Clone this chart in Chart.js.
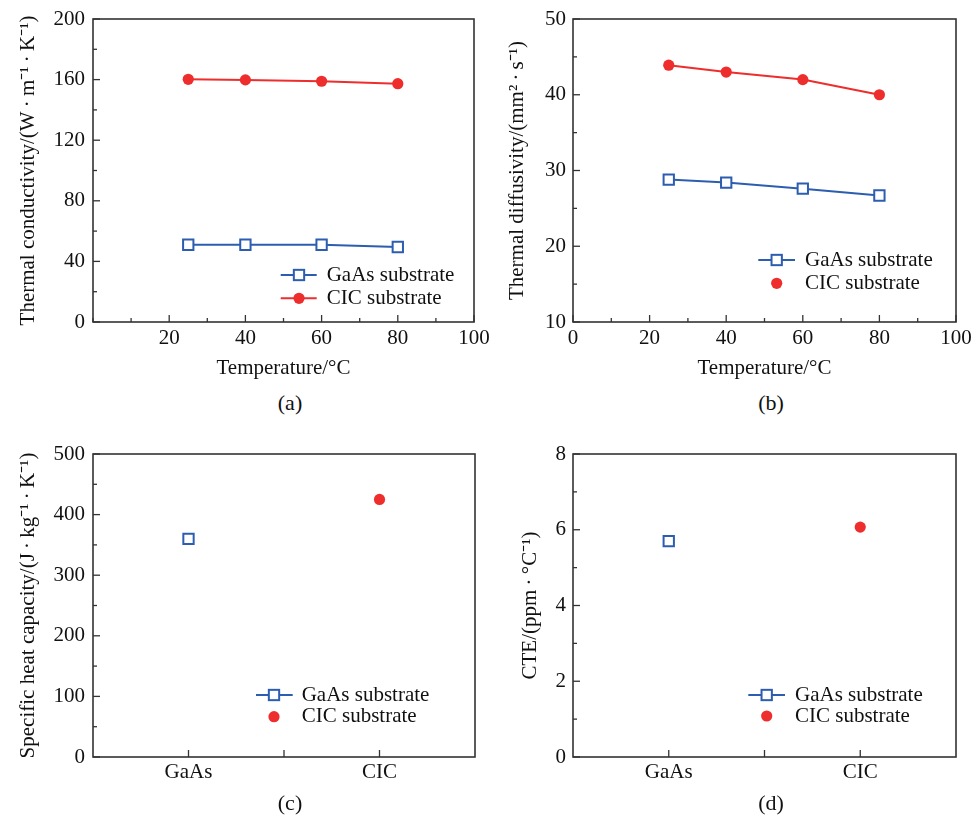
<!DOCTYPE html>
<html>
<head>
<meta charset="utf-8">
<script src="https://cdn.jsdelivr.net/npm/chart.js@4.4.1/dist/chart.umd.min.js"></script>
<style>
html, body { margin: 0; padding: 0; background: #fff; overflow: hidden; }
body { width: 973px; height: 817px; position: relative; }
canvas { position: absolute; }
.plabel { position: absolute; font: 22px "Liberation Serif", "Times New Roman", serif; color: #111; transform: translate(-50%, -50%); white-space: nowrap; }
</style>
</head>
<body>
<canvas id="ca"></canvas>
<canvas id="cb"></canvas>
<canvas id="cc"></canvas>
<canvas id="cd"></canvas>
<div class="plabel" style="left:290px;top:403px">(a)</div>
<div class="plabel" style="left:771px;top:403px">(b)</div>
<div class="plabel" style="left:290px;top:803px">(c)</div>
<div class="plabel" style="left:771px;top:803px">(d)</div>
<script>
// ---------------- DATA ----------------
const seriesLabels = ['GaAs substrate', 'CIC substrate'];
const temperatures = [25, 40, 60, 80];
const gaasConductivity = [51, 51, 51, 49.5];
const cicConductivity = [160.2, 159.8, 158.9, 157.3];
const gaasDiffusivity = [28.8, 28.4, 27.6, 26.7];
const cicDiffusivity = [43.9, 43.0, 42.0, 40.0];
const substrates = ['GaAs', 'CIC'];
const heatCapacity = [360, 425];
const cteValues = [5.7, 6.07];

const tempTicksA = [20, 40, 60, 80, 100];
const tempTicksB = [0, 20, 40, 60, 80, 100];
const conductivityTicks = [0, 40, 80, 120, 160, 200];
const diffusivityTicks = [10, 20, 30, 40, 50];
const heatCapTicks = [0, 100, 200, 300, 400, 500];
const cteTicks = [0, 2, 4, 6, 8];

// ---------------- STYLE ----------------
const BLUE = '#2c5db0';
const RED = '#ee2d2d';
const AXIS = '#333333';
const TEXT = '#111111';
const FONT = '"Liberation Serif", "Times New Roman", serif';

Chart.defaults.font.family = FONT;
Chart.defaults.font.size = 21;
Chart.defaults.color = TEXT;
Chart.defaults.animation = false;

const inTicks = {
  id: 'inTicks',
  afterDraw(chart, args, o) {
    const { ctx, chartArea: ca } = chart;
    const xs = chart.scales.x, ys = chart.scales.y;
    ctx.save();
    ctx.strokeStyle = AXIS;
    ctx.lineWidth = 1.3;
    const dx = (px, len) => { ctx.beginPath(); ctx.moveTo(px, ca.bottom); ctx.lineTo(px, ca.bottom - len); ctx.stroke(); };
    const dy = (py, len) => { ctx.beginPath(); ctx.moveTo(ca.left, py); ctx.lineTo(ca.left + len, py); ctx.stroke(); };
    xs.ticks.forEach((t, i) => dx(xs.getPixelForTick(i), o.major));
    ys.ticks.forEach((t, i) => dy(ys.getPixelForTick(i), o.major));
    if (o.xMinor) {
      const n = Math.round((xs.max - xs.min) / o.xMinor);
      for (let k = 0; k <= n; k++) {
        const v = xs.min + k * o.xMinor;
        if (!xs.ticks.some(t => Math.abs(t.value - v) < 1e-9)) dx(xs.getPixelForValue(v), o.minor);
      }
    }
    if (o.xMid) {
      for (let i = 0; i < xs.ticks.length - 1; i++) {
        dx((xs.getPixelForTick(i) + xs.getPixelForTick(i + 1)) / 2, o.major);
      }
    }
    if (o.yMinor) {
      const n = Math.round((ys.max - ys.min) / o.yMinor);
      for (let k = 0; k <= n; k++) {
        const v = ys.min + k * o.yMinor;
        if (!ys.ticks.some(t => Math.abs(t.value - v) < 1e-9)) dy(ys.getPixelForValue(v), o.minor);
      }
    }
    ctx.lineWidth = 1.6;
    ctx.strokeRect(ca.left, ca.top, ca.right - ca.left, ca.bottom - ca.top);
    ctx.restore();
  }
};

const boxLegend = {
  id: 'boxLegend',
  afterDraw(chart, args, o) {
    const { ctx, chartArea: ca } = chart;
    ctx.save();
    chart.data.datasets.forEach((ds, i) => {
      const y = ca.bottom + o.rows[i];
      const xm = ca.right + o.xm;
      if (o.lines[i]) {
        ctx.strokeStyle = ds.borderColor;
        ctx.lineWidth = 2;
        ctx.beginPath();
        ctx.moveTo(ca.right + o.x1, y);
        ctx.lineTo(ca.right + o.x2, y);
        ctx.stroke();
      }
      if (ds.pointStyle === 'rect') {
        const s = ds.pointRadius * Math.SQRT1_2;
        ctx.fillStyle = '#fff';
        ctx.fillRect(xm - s, y - s, 2 * s, 2 * s);
        ctx.strokeStyle = ds.borderColor;
        ctx.lineWidth = 2;
        ctx.strokeRect(xm - s, y - s, 2 * s, 2 * s);
      } else {
        ctx.fillStyle = ds.pointBackgroundColor;
        ctx.beginPath();
        ctx.arc(xm, y, ds.pointRadius, 0, Math.PI * 2);
        ctx.fill();
      }
      ctx.fillStyle = TEXT;
      ctx.font = '21px ' + FONT;
      ctx.textAlign = 'left';
      ctx.textBaseline = 'middle';
      ctx.fillText(ds.label, ca.right + o.xt, y);
    });
    ctx.restore();
  }
};

function gaasStyle(showLine) {
  return {
    label: seriesLabels[0], borderColor: BLUE, backgroundColor: BLUE, borderWidth: 2,
    pointStyle: 'rect', pointRadius: 7.3, pointBorderWidth: 2,
    pointBorderColor: BLUE, pointBackgroundColor: '#ffffff', showLine: showLine
  };
}
function cicStyle(showLine) {
  return {
    label: seriesLabels[1], borderColor: RED, backgroundColor: RED, borderWidth: 2,
    pointStyle: 'circle', pointRadius: 5.6, pointBorderWidth: 0,
    pointBorderColor: RED, pointBackgroundColor: RED, showLine: showLine
  };
}

function makePanel(id, g, xCfg, yCfg, datasets, tickOpts, legendOpts) {
  const cv = document.getElementById(id);
  cv.width = g.cw; cv.height = g.ch;
  cv.style.left = g.cl + 'px'; cv.style.top = g.ct + 'px';
  const padLeft = 4;
  const yWidth = g.left - g.cl - padLeft;
  const xh = g.xh;
  const padding = {
    left: padLeft,
    top: g.top - g.ct,
    right: g.cl + g.cw - g.right,
    bottom: g.ct + g.ch - g.bottom - xh
  };
  const x = Object.assign({
    grid: { display: false, drawTicks: false },
    border: { display: false },
    afterFit: s => { s.height = xh; }
  }, xCfg);
  x.ticks = Object.assign({ autoSkip: false, maxRotation: 0, color: TEXT }, xCfg.ticks || {});
  const y = Object.assign({
    type: 'linear',
    grid: { display: false, drawTicks: false },
    border: { display: false },
    afterFit: s => { s.width = yWidth; }
  }, yCfg);
  y.ticks = Object.assign({ autoSkip: false, padding: g.yPad, color: TEXT }, yCfg.ticks || {});
  y.title = { display: true, text: yCfg.titleText, color: TEXT, padding: { top: g.yTitleX - (g.cl + padLeft) - 12.6, bottom: 0 } };
  return new Chart(cv, {
    type: 'line',
    data: { labels: xCfg.type === 'category' ? substrates : undefined, datasets },
    options: {
      responsive: false,
      maintainAspectRatio: false,
      devicePixelRatio: 1,
      layout: { padding },
      plugins: {
        legend: { display: false },
        tooltip: { enabled: false },
        inTicks: tickOpts,
        boxLegend: legendOpts
      },
      scales: { x, y }
    },
    plugins: [inTicks, boxLegend]
  });
}

const pairs = (xs, ys) => xs.map((v, i) => ({ x: v, y: ys[i] }));
const setTicks = arr => s => { s.ticks = arr.map(v => ({ value: v })); };

// (a)
makePanel('ca',
  { cl: 0, ct: -11, cw: 502, ch: 396, left: 93, top: 19, right: 474, bottom: 322, xh: 58.6, yTitleX: 28, yPad: 8 },
  { type: 'linear', min: 0, max: 100, afterBuildTicks: setTicks(tempTicksA), ticks: { padding: 4 },
    title: { display: true, text: 'Temperature/°C', color: TEXT, padding: { top: 0, bottom: 0 } } },
  { min: 0, max: 200, afterBuildTicks: setTicks(conductivityTicks), titleText: 'Thermal conductivity/(W\u2009·\u2009m⁻¹\u2009·\u2009K⁻¹)' },
  [Object.assign(gaasStyle(true), { data: pairs(temperatures, gaasConductivity) }),
   Object.assign(cicStyle(true), { data: pairs(temperatures, cicConductivity) })],
  { major: 7, minor: 4, xMinor: 10, yMinor: 20 },
  { rows: [-47, -23.7], x1: -193.3, x2: -157.3, xm: -175, xt: -147.3, lines: [true, true] }
);

// (b)
makePanel('cb',
  { cl: 490, ct: -11, cw: 494, ch: 396, left: 573, top: 19, right: 956, bottom: 322, xh: 58.6, yTitleX: 517, yPad: 7 },
  { type: 'linear', min: 0, max: 100, afterBuildTicks: setTicks(tempTicksB), ticks: { padding: 4 },
    title: { display: true, text: 'Temperature/°C', color: TEXT, padding: { top: 0, bottom: 0 } } },
  { min: 10, max: 50, afterBuildTicks: setTicks(diffusivityTicks), titleText: 'Thermal diffusivity/(mm²\u2009·\u2009s⁻¹)' },
  [Object.assign(gaasStyle(true), { data: pairs(temperatures, gaasDiffusivity) }),
   Object.assign(cicStyle(true), { data: pairs(temperatures, cicDiffusivity) })],
  { major: 7, minor: 4, xMinor: 10, yMinor: 5 },
  { rows: [-62, -38.7], x1: -197.7, x2: -161, xm: -179.3, xt: -151, lines: [true, false] }
);

// (c)
makePanel('cc',
  { cl: 0, ct: 420, cw: 503, ch: 390, left: 93, top: 454, right: 475, bottom: 757, xh: 45, yTitleX: 28, yPad: 8 },
  { type: 'category', offset: true, ticks: { padding: 2.4 } },
  { min: 0, max: 500, afterBuildTicks: setTicks(heatCapTicks), titleText: 'Specific heat capacity/(J\u2009·\u2009kg⁻¹\u2009·\u2009K⁻¹)' },
  [Object.assign(gaasStyle(false), { data: [{ x: substrates[0], y: heatCapacity[0] }] }),
   Object.assign(cicStyle(false), { data: [{ x: substrates[1], y: heatCapacity[1] }] })],
  { major: 7, minor: 4, xMid: true, yMinor: 50 },
  { rows: [-62, -40.3], x1: -219, x2: -182.3, xm: -201, xt: -173.3, lines: [true, false] }
);

// (d)
makePanel('cd',
  { cl: 490, ct: 420, cw: 494, ch: 390, left: 573, top: 454, right: 956, bottom: 757, xh: 45, yTitleX: 530, yPad: 7 },
  { type: 'category', offset: true, ticks: { padding: 2.4 } },
  { min: 0, max: 8, afterBuildTicks: setTicks(cteTicks), titleText: 'CTE/(ppm\u2009·\u2009°C⁻¹)' },
  [Object.assign(gaasStyle(false), { data: [{ x: substrates[0], y: cteValues[0] }] }),
   Object.assign(cicStyle(false), { data: [{ x: substrates[1], y: cteValues[1] }] })],
  { major: 7, minor: 4, xMid: true, yMinor: 1 },
  { rows: [-62, -41], x1: -207.7, x2: -171, xm: -189.3, xt: -161, lines: [true, false] }
);
</script>
</body>
</html>
